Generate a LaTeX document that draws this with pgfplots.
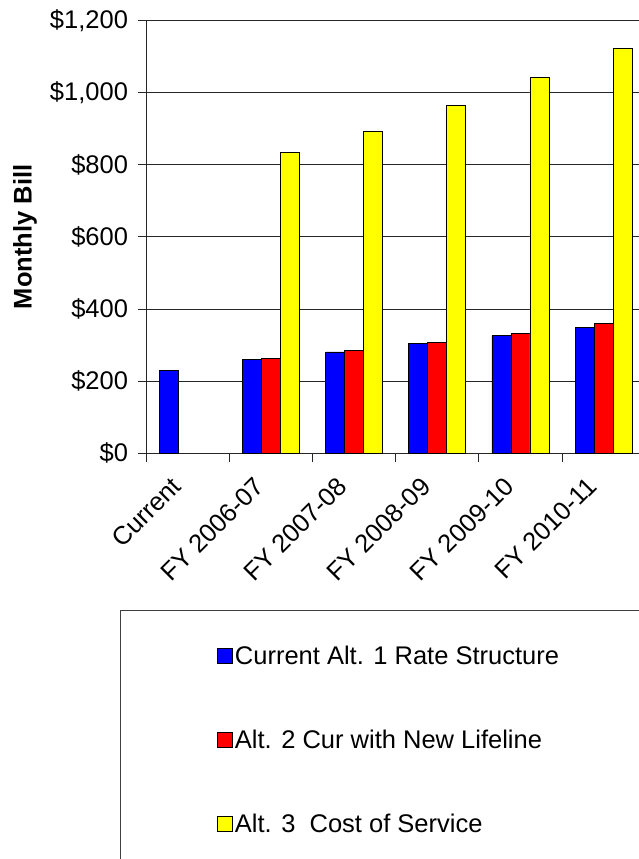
\documentclass[border=0pt]{standalone}
\usepackage{pgfplots}
\pgfplotsset{compat=1.18}
\usepackage{fontspec}
\setmainfont{Liberation Sans}
\newcommand\chartfont{\fontsize{25.5bp}{30bp}\selectfont}
\definecolor{altone}{RGB}{0,0,255}
\definecolor{alttwo}{RGB}{255,0,0}
\definecolor{altthree}{RGB}{255,255,0}
\begin{document}
\begin{tikzpicture}
\useasboundingbox (0bp,0bp) rectangle (639bp,859bp);
\begin{scope}
\clip (0bp,0bp) rectangle (639bp,859bp);
\begin{axis}[
  at={(146.5bp,405.7bp)}, anchor=south west,
  scale only axis, width=498.6bp, height=432.7bp,
  xmin=-0.5, xmax=5.5, ymin=0, ymax=1200,
  axis x line*=bottom, axis y line*=left,
  axis line style={black!85, line width=1bp},
  ybar=0pt, bar width=19bp,
  xtick={-0.5,0.5,...,5.5},
  x tick label as interval,
  xticklabels={Current,FY 2006-07,FY 2007-08,FY 2008-09,FY 2009-10,FY 2010-11},
  xticklabel style={xshift=-9bp, yshift=-17bp, rotate=45, anchor=east, font=\chartfont},
  ytick={0,200,...,1200},
  yticklabels={\$0,\$200,\$400,\$600,\$800,{\$1,000},{\$1,200}},
  yticklabel style={xshift=-6bp, font=\chartfont},
  tick align=outside, major tick length=9bp,
  tick style={black!85, line width=1bp},
  ymajorgrids, major grid style={black!85, line width=0.9bp},
  ylabel={Monthly Bill},
  ylabel style={at={(axis description cs:-0.2437,0.5)}, anchor=center, font=\chartfont\bfseries},
  every axis plot/.append style={draw=black, line width=0.8bp},
  legend cell align=left,
  legend style={at={(axis description cs:-0.054,-0.3621)}, anchor=north west,
    draw=black!75, line width=1.2bp, inner xsep=97bp, inner ysep=33bp,
    row sep=60bp, font=\chartfont, nodes={inner sep=2bp}},
  legend image code/.code={\draw[#1,draw=black,line width=0.8bp] (0bp,-7.5bp) rectangle (15bp,7.5bp);},
]
\addplot[fill=altone] coordinates {(0,231) (1,261) (2,281) (3,304) (4,327) (5,350)};
\addlegendentry{Current Alt. 1 Rate Structure}
\addplot[fill=alttwo] coordinates {(1,264) (2,285) (3,308) (4,332) (5,359)};
\addlegendentry{Alt. 2 Cur with New Lifeline}
\addplot[fill=altthree] coordinates {(1,834) (2,893) (3,964) (4,1042) (5,1123)};
\addlegendentry{Alt. 3\ \ Cost of Service}
\end{axis}
\end{scope}
\end{tikzpicture}
\end{document}
